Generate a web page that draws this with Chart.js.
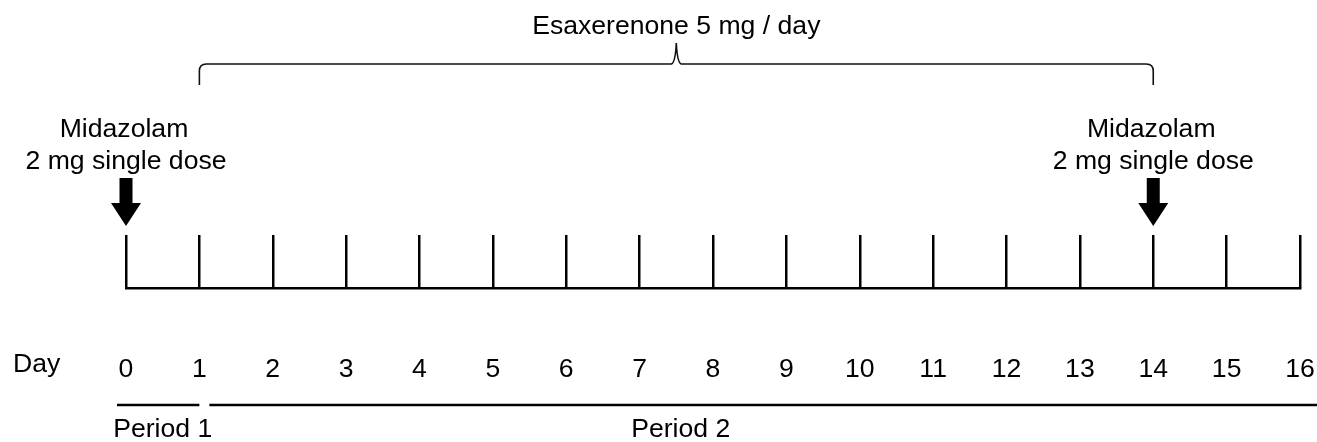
<!DOCTYPE html>
<html><head><meta charset="utf-8">
<script src="https://cdn.jsdelivr.net/npm/chart.js@4/dist/chart.umd.min.js"></script>
<style>html,body{margin:0;padding:0;background:#fff}#wrap{width:1317px;height:442px}</style>
</head><body><div id="wrap"><canvas id="c" width="1317" height="442"></canvas></div>
<script>
// ---- data ----
const days = [0,1,2,3,4,5,6,7,8,9,10,11,12,13,14,15,16];
const dayLabels = ['0','1','2','3','4','5','6','7','8','9','10','11','12','13','14','15','16'];
const axisTitle = 'Day';
const doseDays = [0, 14];
const doseLabels = ['Midazolam', '2 mg single dose'];
const treatmentSpan = [1, 14];
const treatmentLabel = 'Esaxerenone 5 mg / day';
const periodNames = ['Period 1', 'Period 2'];
const periodStarts = [0, 1];
const periodEnds = [1, 16];
const periodLabelDays = [0.5, 7.56];

const FONT = '"Liberation Sans", Arial, Helvetica, sans-serif';
const FS = 26.6;

const studyPlugin = {
  id: 'study',
  afterDraw(chart) {
    const ctx = chart.ctx;
    const xs = chart.scales.x;
    const px = v => xs.getPixelForValue(v);
    ctx.save();
    ctx.fillStyle = '#000';
    ctx.strokeStyle = '#000';
    ctx.font = FS + 'px ' + FONT;
    ctx.textBaseline = 'alphabetic';

    // Day title
    ctx.textAlign = 'left';
    ctx.fillText(axisTitle, 13, 372);

    // dose arrows + labels
    ctx.textAlign = 'center';
    doseDays.forEach(d => {
      const x = px(d);
      ctx.beginPath();
      ctx.moveTo(x - 6.5, 178);
      ctx.lineTo(x + 6.5, 178);
      ctx.lineTo(x + 6.5, 203);
      ctx.lineTo(x + 15, 203);
      ctx.lineTo(x, 226);
      ctx.lineTo(x - 15, 203);
      ctx.lineTo(x - 6.5, 203);
      ctx.closePath();
      ctx.fill();
      ctx.fillText(doseLabels[0], x - 2, 137);
      ctx.fillText(doseLabels[1], x, 169);
    });

    // brace
    const x1 = px(treatmentSpan[0]), x2 = px(treatmentSpan[1]);
    const xm = (x1 + x2) / 2;
    const yL = 64, yE = 85, yT = 43;
    ctx.lineWidth = 1.6;
    ctx.strokeStyle = '#111';
    ctx.beginPath();
    ctx.moveTo(x1, yE);
    ctx.lineTo(x1, yL + 7);
    ctx.quadraticCurveTo(x1, yL, x1 + 7, yL);
    ctx.lineTo(xm - 5, yL);
    ctx.quadraticCurveTo(xm - 1, yL - 1, xm, yT);
    ctx.quadraticCurveTo(xm + 1, yL - 1, xm + 5, yL);
    ctx.lineTo(x2 - 7, yL);
    ctx.quadraticCurveTo(x2, yL, x2, yL + 7);
    ctx.lineTo(x2, yE);
    ctx.stroke();
    ctx.fillText(treatmentLabel, xm, 34);

    // periods
    ctx.strokeStyle = '#000';
    ctx.lineWidth = 2.5;
    ctx.beginPath();
    ctx.moveTo(px(periodStarts[0]) - 9, 405);
    ctx.lineTo(px(periodEnds[0]), 405);
    ctx.moveTo(px(periodStarts[1]) + 10, 405);
    ctx.lineTo(chart.width, 405);
    ctx.stroke();
    periodNames.forEach((n, i) => ctx.fillText(n, px(periodLabelDays[i]), 437));
    ctx.restore();
  }
};

new Chart(document.getElementById('c'), {
  type: 'scatter',
  data: { datasets: [{ data: doseDays.map(d => ({ x: d, y: 1 })), pointRadius: 0, showLine: false }] },
  options: {
    responsive: false,
    animation: false,
    devicePixelRatio: 1,
    layout: { padding: { left: 126, right: 17, top: 235, bottom: 0 } },
    plugins: { legend: { display: false }, tooltip: { enabled: false } },
    scales: {
      x: {
        type: 'linear', position: 'bottom', min: days[0], max: days[days.length - 1],
        afterBuildTicks: s => { s.ticks = days.map(v => ({ value: v })); },
        afterFit: s => { s.height = 154; s.paddingLeft = 0; s.paddingRight = 0; },
        ticks: {
          callback: (v, i) => dayLabels[i], color: '#000',
          font: { family: FONT, size: FS }, padding: 66, maxRotation: 0, autoSkip: false
        },
        grid: { color: '#000', lineWidth: 2.5, drawTicks: false },
        border: { color: '#000', width: 2.5 }
      },
      y: { display: false, min: 0, max: 1 }
    }
  },
  plugins: [studyPlugin]
});
</script></body></html>
